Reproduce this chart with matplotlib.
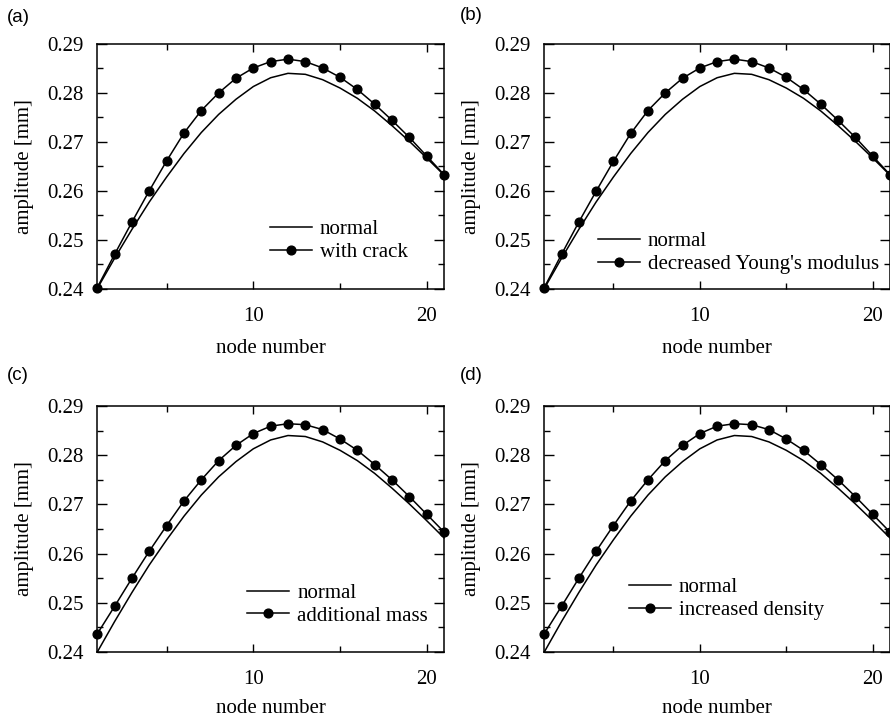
import matplotlib
matplotlib.use("Agg")
import matplotlib.pyplot as plt
from matplotlib.ticker import MultipleLocator

plt.rcParams['font.family'] = ['Liberation Serif', 'DejaVu Serif']

nodes = list(range(1, 22))
normal = [0.2400, 0.2462, 0.2521, 0.2577, 0.2628, 0.2676, 0.2719, 0.2756, 0.2787,
          0.2813, 0.2831, 0.2840, 0.2838, 0.2827, 0.2810, 0.2789, 0.2763, 0.2733,
          0.2701, 0.2667, 0.2632]
with_crack = [0.2402, 0.2470, 0.2536, 0.2600, 0.2661, 0.2718, 0.2764, 0.2800, 0.2830,
              0.2851, 0.2864, 0.2869, 0.2864, 0.2851, 0.2832, 0.2807, 0.2777, 0.2744,
              0.2709, 0.2671, 0.2633]
decreased_young = [0.2402, 0.2470, 0.2536, 0.2599, 0.2660, 0.2717, 0.2764, 0.2800, 0.2830,
                   0.2851, 0.2864, 0.2869, 0.2864, 0.2851, 0.2832, 0.2807, 0.2777, 0.2744,
                   0.2709, 0.2671, 0.2633]
additional_mass = [0.2437, 0.2493, 0.2550, 0.2605, 0.2657, 0.2707, 0.2750, 0.2789, 0.2820,
                   0.2844, 0.2859, 0.2864, 0.2862, 0.2852, 0.2833, 0.2810, 0.2781, 0.2750,
                   0.2716, 0.2680, 0.2644]
increased_density = [0.2437, 0.2493, 0.2550, 0.2605, 0.2657, 0.2707, 0.2750, 0.2789, 0.2820,
                     0.2844, 0.2859, 0.2864, 0.2862, 0.2852, 0.2833, 0.2810, 0.2781, 0.2750,
                     0.2716, 0.2680, 0.2644]

panel_letters = ['(a)', '(b)', '(c)', '(d)']
series_labels = ['with crack', "decreased Young's modulus", 'additional mass', 'increased density']
series_values = [with_crack, decreased_young, additional_mass, increased_density]

W, H = 890, 721
fig = plt.figure(figsize=(W / 100, H / 100), dpi=100)

# axes rectangles in pixels: left, top, right, bottom
rects = [(97.3, 44, 444, 288.5), (544.3, 44, 889.9, 288.5),
         (97.3, 406, 444, 652), (544.3, 406, 889.9, 652)]
legend_pos = [(0.498, 0.195), (0.155, 0.145), (0.432, 0.193), (0.245, 0.216)]
letter_pos = [(7, 17), (460, 15), (7, 375), (460, 375)]
xlabel_pad = [10, 10, 7, 7]

FS = 15
for i in range(4):
    l, t, r, b = rects[i]
    ax = fig.add_axes([l / W, 1 - b / H, (r - l) / W, (b - t) / H])
    ln_n, = ax.plot(nodes, normal, color='black', lw=1.1, clip_on=False)
    ln_s, = ax.plot(nodes, series_values[i], color='black', lw=1.1, marker='o',
                    markersize=6.3, clip_on=False)
    ax.set_xlim(1, 21)
    ax.set_ylim(0.24, 0.29)
    ax.xaxis.set_major_locator(MultipleLocator(10))
    ax.xaxis.set_minor_locator(MultipleLocator(5))
    ax.yaxis.set_major_locator(MultipleLocator(0.01))
    ax.yaxis.set_minor_locator(MultipleLocator(0.005))
    ax.set_xticks([10, 20])
    ax.tick_params(which='both', direction='in', top=True, right=True, width=1.0,
                   labelsize=FS)
    ax.tick_params(axis='y', which='major', length=7, pad=10)
    ax.tick_params(axis='y', which='minor', length=4.5)
    ax.tick_params(axis='x', which='major', length=6, pad=13)
    ax.tick_params(axis='x', which='minor', length=4.5)
    ax.yaxis.set_major_formatter(plt.FuncFormatter(lambda v, p: f"{v:.2f}"))
    for s in ax.spines.values():
        s.set_linewidth(1.1)
    ax.set_xlabel('node number', fontsize=FS, labelpad=xlabel_pad[i])
    ax.set_ylabel('amplitude [mm]', fontsize=FS, labelpad=9)
    ax.legend([ln_n, ln_s], ['normal', series_labels[i]], loc='center left',
              bbox_to_anchor=legend_pos[i], frameon=False, fontsize=FS,
              handlelength=2.0, handletextpad=0.4, labelspacing=0.15,
              borderpad=0, borderaxespad=0, numpoints=1)
    fig.text(letter_pos[i][0] / W, 1 - letter_pos[i][1] / H, panel_letters[i],
             family='Liberation Sans', fontsize=13.5, ha='left', va='center')

fig.savefig('out.png', dpi=100)
